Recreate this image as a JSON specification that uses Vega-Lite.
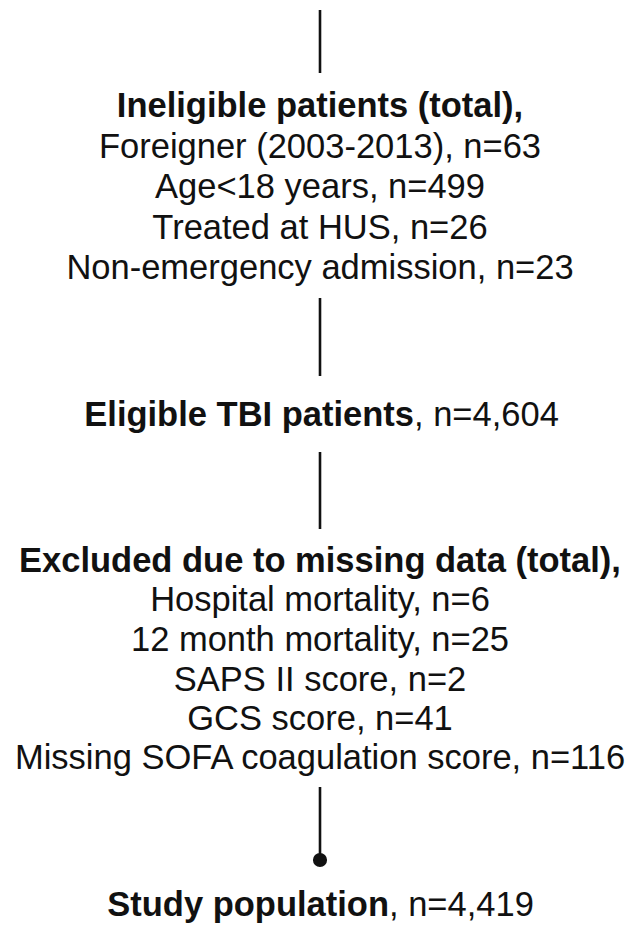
{
  "$schema": "https://vega.github.io/schema/vega-lite/v6.json",
  "width": 631,
  "height": 926,
  "autosize": {"type": "fit", "contains": "padding"},
  "padding": 0,
  "background": "white",
  "config": {"view": {"stroke": null}},
  "datasets": {
    "texts": [
      {"label": "Ineligible patients (total),", "part": "bold_c", "x": 320, "y": 107},
      {"label": "Foreigner (2003-2013), n=63", "part": "norm_c", "x": 320, "y": 148},
      {"label": "Age<18 years, n=499", "part": "norm_c", "x": 320, "y": 188},
      {"label": "Treated at HUS, n=26", "part": "norm_c", "x": 320, "y": 229},
      {"label": "Non-emergency admission, n=23", "part": "norm_c", "x": 320, "y": 269},
      {"label": "Eligible TBI patients", "part": "bold_r", "x": 414, "y": 416},
      {"label": ", n=4,604", "part": "norm_l", "x": 414, "y": 416},
      {"label": "Excluded due to missing data (total),", "part": "bold_c", "x": 320, "y": 562},
      {"label": "Hospital mortality, n=6", "part": "norm_c", "x": 320, "y": 601},
      {"label": "12 month mortality, n=25", "part": "norm_c", "x": 320, "y": 641},
      {"label": "SAPS II score, n=2", "part": "norm_c", "x": 320, "y": 681},
      {"label": "GCS score, n=41", "part": "norm_c", "x": 320, "y": 720},
      {"label": "Missing SOFA coagulation score, n=116", "part": "norm_c", "x": 320, "y": 759},
      {"label": "Study population", "part": "bold_r", "x": 389, "y": 906},
      {"label": ", n=4,419", "part": "norm_l", "x": 389, "y": 906}
    ],
    "lines": [
      {"x": 320, "y1": 10, "y2": 73},
      {"x": 320, "y1": 298, "y2": 376},
      {"x": 320, "y1": 452, "y2": 529},
      {"x": 320, "y1": 787, "y2": 858}
    ],
    "dots": [
      {"x": 320, "y": 860}
    ]
  },
  "layer": [
    {
      "data": {"name": "lines"},
      "mark": {"type": "rule", "stroke": "#111111", "strokeWidth": 2.6},
      "encoding": {
        "x": {"field": "x", "type": "quantitative", "scale": {"domain": [0, 631]}, "axis": null},
        "y": {"field": "y1", "type": "quantitative", "scale": {"domain": [0, 926], "reverse": true}, "axis": null},
        "y2": {"field": "y2"}
      }
    },
    {
      "data": {"name": "dots"},
      "mark": {"type": "point", "shape": "circle", "filled": true, "color": "#111111", "size": 200, "opacity": 1},
      "encoding": {
        "x": {"field": "x", "type": "quantitative", "scale": {"domain": [0, 631]}, "axis": null},
        "y": {"field": "y", "type": "quantitative", "scale": {"domain": [0, 926], "reverse": true}, "axis": null}
      }
    },
    {
      "data": {"name": "texts"},
      "transform": [{"filter": "datum.part === 'bold_c'"}],
      "mark": {"type": "text", "font": "Liberation Sans", "fontSize": 34.5, "fontWeight": "bold", "align": "center", "baseline": "middle", "color": "#111111"},
      "encoding": {
        "x": {"field": "x", "type": "quantitative", "scale": {"domain": [0, 631]}, "axis": null},
        "y": {"field": "y", "type": "quantitative", "scale": {"domain": [0, 926], "reverse": true}, "axis": null},
        "text": {"field": "label"}
      }
    },
    {
      "data": {"name": "texts"},
      "transform": [{"filter": "datum.part === 'norm_c'"}],
      "mark": {"type": "text", "font": "Liberation Sans", "fontSize": 34.5, "fontWeight": "normal", "align": "center", "baseline": "middle", "color": "#111111"},
      "encoding": {
        "x": {"field": "x", "type": "quantitative", "scale": {"domain": [0, 631]}, "axis": null},
        "y": {"field": "y", "type": "quantitative", "scale": {"domain": [0, 926], "reverse": true}, "axis": null},
        "text": {"field": "label"}
      }
    },
    {
      "data": {"name": "texts"},
      "transform": [{"filter": "datum.part === 'bold_r'"}],
      "mark": {"type": "text", "font": "Liberation Sans", "fontSize": 34.5, "fontWeight": "bold", "align": "right", "baseline": "middle", "color": "#111111"},
      "encoding": {
        "x": {"field": "x", "type": "quantitative", "scale": {"domain": [0, 631]}, "axis": null},
        "y": {"field": "y", "type": "quantitative", "scale": {"domain": [0, 926], "reverse": true}, "axis": null},
        "text": {"field": "label"}
      }
    },
    {
      "data": {"name": "texts"},
      "transform": [{"filter": "datum.part === 'norm_l'"}],
      "mark": {"type": "text", "font": "Liberation Sans", "fontSize": 34.5, "fontWeight": "normal", "align": "left", "baseline": "middle", "color": "#111111"},
      "encoding": {
        "x": {"field": "x", "type": "quantitative", "scale": {"domain": [0, 631]}, "axis": null},
        "y": {"field": "y", "type": "quantitative", "scale": {"domain": [0, 926], "reverse": true}, "axis": null},
        "text": {"field": "label"}
      }
    }
  ]
}
